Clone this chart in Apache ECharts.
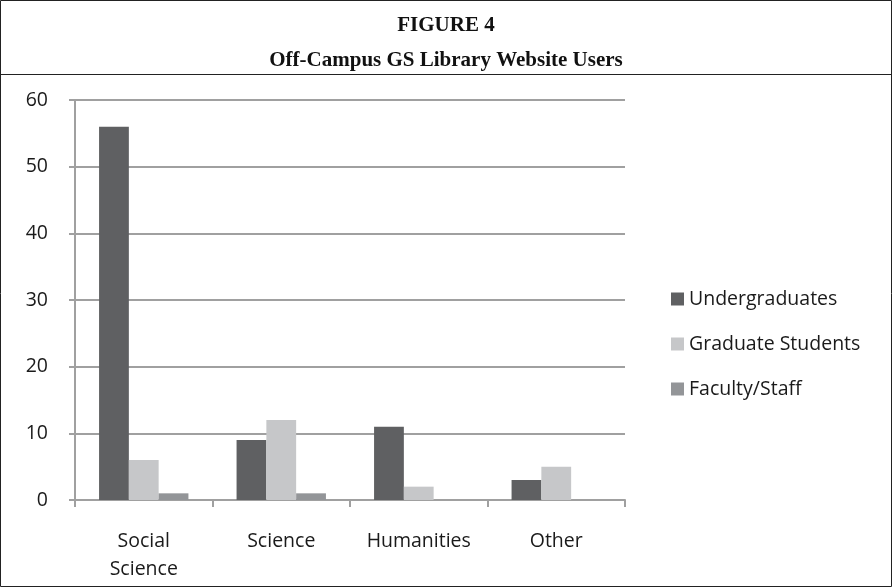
<!DOCTYPE html>
<html>
<head>
<meta charset="utf-8">
<script src="https://cdn.jsdelivr.net/npm/echarts@6/dist/echarts.min.js"></script>
<style>
  html, body { margin: 0; padding: 0; background: #fff; }
  #chart { width: 892px; height: 587px; }
</style>
</head>
<body>
<div id="chart"></div>
<script>
var categories = ['Social\nScience', 'Science', 'Humanities', 'Other']
var undergraduates = [56, 9, 11, 3]
var graduateStudents = [6, 12, 2, 5]
var facultyStaff = [1, 1, 0, 0]
var seriesNames = ['Undergraduates', 'Graduate Students', 'Faculty/Staff']

var myChart = echarts.init(document.getElementById('chart'))
var axisGray = '#a0a0a0'
var labelFont = { fontFamily: 'Open Sans', fontSize: 19.5, color: '#1a1a1a' }

myChart.setOption({
  animation: false,
  color: ['#5f6062', '#c6c7c9', '#939598'],
  title: {
    text: 'FIGURE 4\nOff-Campus GS Library Website Users',
    left: 'center',
    top: 3,
    textStyle: {
      fontFamily: 'Liberation Serif',
      fontWeight: 'bold',
      fontSize: 21,
      lineHeight: 35,
      color: '#111'
    }
  },
  // outer frame and line under the title
  graphic: [
    {
      type: 'rect',
      shape: { x: 0.5, y: 0.5, width: 891, height: 586 },
      style: { fill: null, stroke: '#222', lineWidth: 1 }
    },
    {
      type: 'line',
      shape: { x1: 0, y1: 74.5, x2: 892, y2: 74.5 },
      style: { stroke: '#222', lineWidth: 1 }
    }
  ],
  legend: {
    orient: 'vertical',
    left: 666,
    top: 284,
    itemWidth: 13,
    itemHeight: 13,
    itemGap: 25,
    icon: 'rect',
    textStyle: labelFont,
    data: seriesNames
  },
  grid: {
    left: 75,
    top: 100,
    right: 267,
    bottom: 87
  },
  xAxis: {
    type: 'category',
    data: categories,
    boundaryGap: true,
    axisLine: { show: true, lineStyle: { color: axisGray, width: 2 } },
    axisTick: { show: true, length: 7, lineStyle: { color: axisGray, width: 2 } },
    axisLabel: { margin: 27, lineHeight: 28, ...labelFont }
  },
  yAxis: {
    type: 'value',
    min: 0,
    max: 60,
    interval: 10,
    axisLine: { show: true, lineStyle: { color: axisGray, width: 2 } },
    axisTick: { show: true, length: 6, lineStyle: { color: axisGray, width: 2 } },
    axisLabel: { margin: 27, ...labelFont },
    splitLine: { lineStyle: { color: axisGray, width: 2 } }
  },
  series: [
    {
      name: seriesNames[0],
      type: 'bar',
      barGap: '0%',
      barCategoryGap: '35%',
      data: undergraduates
    },
    {
      name: seriesNames[1],
      type: 'bar',
      data: graduateStudents
    },
    {
      name: seriesNames[2],
      type: 'bar',
      data: facultyStaff
    }
  ]
})
</script>
</body>
</html>
